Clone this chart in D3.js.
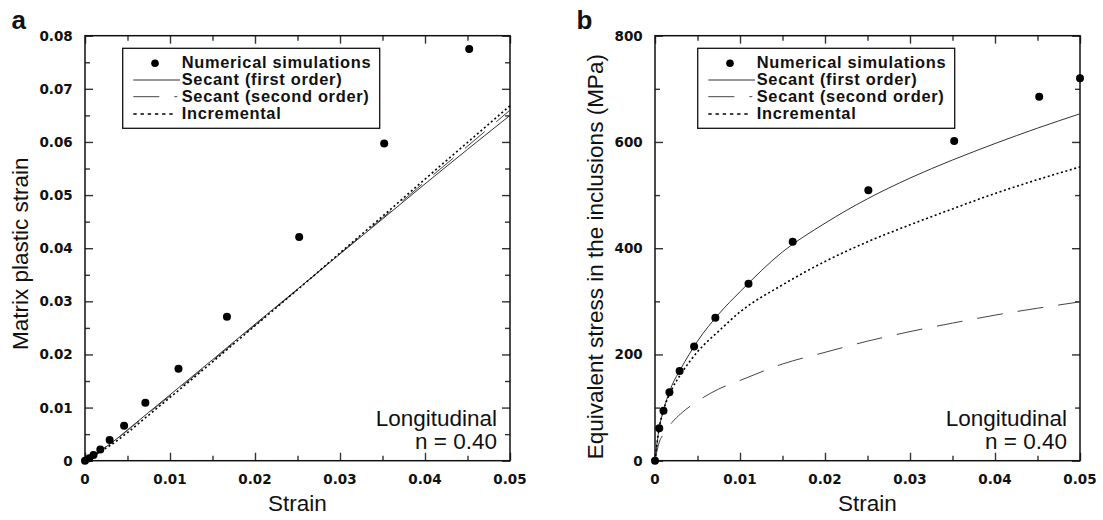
<!doctype html>
<html lang="en">
<head>
  <meta charset="utf-8">
  <style>
    body { margin: 0; background: #fff; }
    .tick-label { font: bold 13.5px "DejaVu Sans", sans-serif; fill: #111; }
    .axis-title { font: 22.5px "Liberation Sans", Arial, sans-serif; fill: #111; }
    .legend-text { font: bold 16.4px "Liberation Sans", Arial, sans-serif; letter-spacing: 0.7px; fill: #111; }
    .panel-tag { font: bold 26px "Liberation Sans", Arial, sans-serif; fill: #111; }
  </style>
  <script src="https://d3js.org/d3.v7.min.js"></script>
</head>
<body>
<script>
// simulation points, panel a
const strainA = [0, 0.0005, 0.001, 0.0018, 0.0029, 0.0046, 0.0071, 0.011, 0.0167, 0.0252, 0.0352, 0.0452];
const plasticA = [0, 0.00045, 0.00107, 0.0021, 0.0039, 0.0066, 0.0109, 0.0173, 0.0271, 0.0421, 0.0597, 0.0775];

// simulation points, panel b
const strainB = [0, 0.0005, 0.001, 0.0017, 0.0029, 0.0046, 0.0071, 0.011, 0.0162, 0.0251, 0.0352, 0.0452, 0.05];
const stressB = [0, 61, 94, 129, 169, 215, 269, 333, 412, 509, 602, 685, 720];

// model curves, sampled at these strains
const curveStrain = [0, 0.0005, 0.001, 0.002, 0.003, 0.005, 0.0075, 0.01, 0.015, 0.02, 0.025, 0.03, 0.035, 0.04, 0.045, 0.05];
const secant1A = [0, 0.0005, 0.001, 0.0021, 0.0032, 0.0058, 0.0091, 0.0124, 0.019, 0.0257, 0.0323, 0.0389, 0.0455, 0.0521, 0.0586, 0.065];
const secant2A = [0, 0.0005, 0.001, 0.0021, 0.0032, 0.0057, 0.009, 0.0122, 0.0188, 0.0255, 0.0322, 0.039, 0.0457, 0.0525, 0.0592, 0.066];
const incrA = [0, 0.0004, 0.0009, 0.0019, 0.0029, 0.0053, 0.0086, 0.0119, 0.0186, 0.0254, 0.0322, 0.0391, 0.046, 0.053, 0.0599, 0.0668];
const secant1B = [0, 62, 95, 142, 172, 225, 276, 318, 393, 447, 493, 532, 566, 597, 626, 653];
const secant2B = [0, 35, 50, 72, 88, 112, 135, 151, 182, 204, 225, 243, 259, 274, 287, 299];
const incrB = [0, 62, 95, 135, 162, 205, 244, 280, 331, 375, 412, 444, 474, 503, 529, 553];

// ticks
const xMajor = [0, 0.01, 0.02, 0.03, 0.04, 0.05];
const xMinor = [0.005, 0.015, 0.025, 0.035, 0.045];
const yMajorA = [0, 0.01, 0.02, 0.03, 0.04, 0.05, 0.06, 0.07, 0.08];
const yMinorA = [0.005, 0.015, 0.025, 0.035, 0.045, 0.055, 0.065, 0.075];
const yMajorB = [0, 200, 400, 600, 800];
const yMinorB = [100, 300, 500, 700];

const legendLabels = ["Numerical simulations", "Secant (first order)", "Secant (second order)", "Incremental"];

const svg = d3.select("body").append("svg")
  .attr("width", 1103)
  .attr("height", 520);

const styles = {
  solid: { stroke: "#333", width: 1, dash: null, legendDash: null },
  dashed: { stroke: "#444", width: 1, dash: "26,15", legendDash: "26,15" },
  dotted: { stroke: "#000", width: 1.6, dash: "2,2.6", legendDash: "3.4,3.8" }
};

function fmtA(d) { return d === 0 ? "0" : d3.format(".2f")(d); }

function panel(opt) {
  const size = 425;
  const g = svg.append("g").attr("transform", `translate(${opt.left},35.7)`);
  const x = d3.scaleLinear().domain([0, 0.05]).range([0, size]);
  const y = d3.scaleLinear().domain(opt.yDomain).range([size, 0]);

  // tick marks on all four sides, pointing inwards
  const tickAxes = [
    [() => d3.axisBottom(x), `translate(0,${size})`, xMajor, xMinor],
    [() => d3.axisTop(x), null, xMajor, xMinor],
    [() => d3.axisLeft(y), null, opt.yMajor, opt.yMinor],
    [() => d3.axisRight(y), `translate(${size},0)`, opt.yMajor, opt.yMinor]
  ];
  tickAxes.forEach(([make, tr, major, minor]) => {
    [[major, -8], [minor, -5]].forEach(([vals, len]) => {
      const s = g.append("g").call(make().tickValues(vals).tickSize(len).tickFormat(""));
      if (tr) s.attr("transform", tr);
      s.select(".domain").remove();
      s.selectAll("line").attr("stroke", "#333").attr("stroke-width", 1.4);
    });
  });

  // frame
  g.append("rect").attr("width", size).attr("height", size)
    .attr("fill", "none").attr("stroke", "#111").attr("stroke-width", 1.5);

  // tick labels
  g.append("g").attr("class", "tick-label")
    .selectAll("text").data(xMajor).join("text")
    .attr("x", d => x(d)).attr("y", size + 23.3)
    .attr("text-anchor", "middle")
    .text(opt.xFmt);
  g.append("g").attr("class", "tick-label")
    .selectAll("text").data(opt.yMajor).join("text")
    .attr("x", -12.3).attr("y", d => y(d) + 5)
    .attr("text-anchor", "end")
    .text(opt.yFmt);

  // curves
  const line = d3.line().x(d => x(d[0])).y(d => y(d[1])).curve(d3.curveMonotoneX);
  opt.curves.forEach(c => {
    const st = styles[c.style];
    g.append("path")
      .datum(curveStrain.map((s, i) => [s, c.values[i]]))
      .attr("d", line)
      .attr("fill", "none")
      .attr("stroke", st.stroke)
      .attr("stroke-width", st.width)
      .attr("stroke-dasharray", st.dash);
  });

  // points
  g.append("g").selectAll("circle")
    .data(opt.strain.map((s, i) => [s, opt.values[i]]))
    .join("circle")
    .attr("cx", d => x(d[0])).attr("cy", d => y(d[1]))
    .attr("r", 4).attr("fill", "#000");

  // legend
  const lg = g.append("g").attr("transform", `translate(${opt.legendX},12.6)`);
  lg.append("rect").attr("width", 257).attr("height", 80)
    .attr("fill", "#fff").attr("stroke", "#111").attr("stroke-width", 1.3);
  lg.append("circle").attr("cx", 32.3).attr("cy", 15).attr("r", 3.8).attr("fill", "#000");
  [["solid", 31.7, 46.7], ["dashed", 48.4, 44], ["dotted", 65.7, 43]].forEach(([k, ly, len]) => {
    const st = styles[k];
    lg.append("line")
      .attr("x1", 10.6).attr("x2", 10.6 + len)
      .attr("y1", ly).attr("y2", ly)
      .attr("stroke", st.stroke).attr("stroke-width", st.width)
      .attr("stroke-dasharray", st.legendDash);
  });
  lg.selectAll("text.legend-text").data(legendLabels).join("text")
    .attr("class", "legend-text")
    .attr("x", 59).attr("y", (d, i) => [20, 36.7, 53.4, 70.7][i])
    .text(d => d);

  // annotation
  g.append("text").attr("class", "axis-title")
    .attr("x", size - 13).attr("y", 390.5).attr("text-anchor", "end")
    .text("Longitudinal");
  g.append("text").attr("class", "axis-title")
    .attr("x", size - 13).attr("y", 413.5).attr("text-anchor", "end")
    .text("n = 0.40");

  // axis titles
  g.append("text").attr("class", "axis-title")
    .attr("x", size / 2).attr("y", 475.5).attr("text-anchor", "middle")
    .text("Strain");
  g.append("text").attr("class", "axis-title")
    .attr("transform", `translate(${opt.yTitleX},${opt.yTitleY}) rotate(-90)`)
    .attr("text-anchor", "middle")
    .text(opt.yTitle);

  svg.append("text").attr("class", "panel-tag")
    .attr("x", opt.tagX).attr("y", 29.3).text(opt.tag);
}

panel({
  left: 85, tag: "a", tagX: 11.5,
  yDomain: [0, 0.08], yMajor: yMajorA, yMinor: yMinorA,
  xFmt: fmtA, yFmt: fmtA,
  strain: strainA, values: plasticA,
  curves: [
    { style: "solid", values: secant1A },
    { style: "dashed", values: secant2A },
    { style: "dotted", values: incrA }
  ],
  legendX: 37.7,
  yTitle: "Matrix plastic strain", yTitleX: -57, yTitleY: 218
});

panel({
  left: 655, tag: "b", tagX: 576.5,
  yDomain: [0, 800], yMajor: yMajorB, yMinor: yMinorB,
  xFmt: fmtA, yFmt: d => String(d),
  strain: strainB, values: stressB,
  curves: [
    { style: "solid", values: secant1B },
    { style: "dashed", values: secant2B },
    { style: "dotted", values: incrB }
  ],
  legendX: 42.7,
  yTitle: "Equivalent stress in the inclusions (MPa)", yTitleX: -52.3, yTitleY: 221
});
</script>
</body>
</html>
